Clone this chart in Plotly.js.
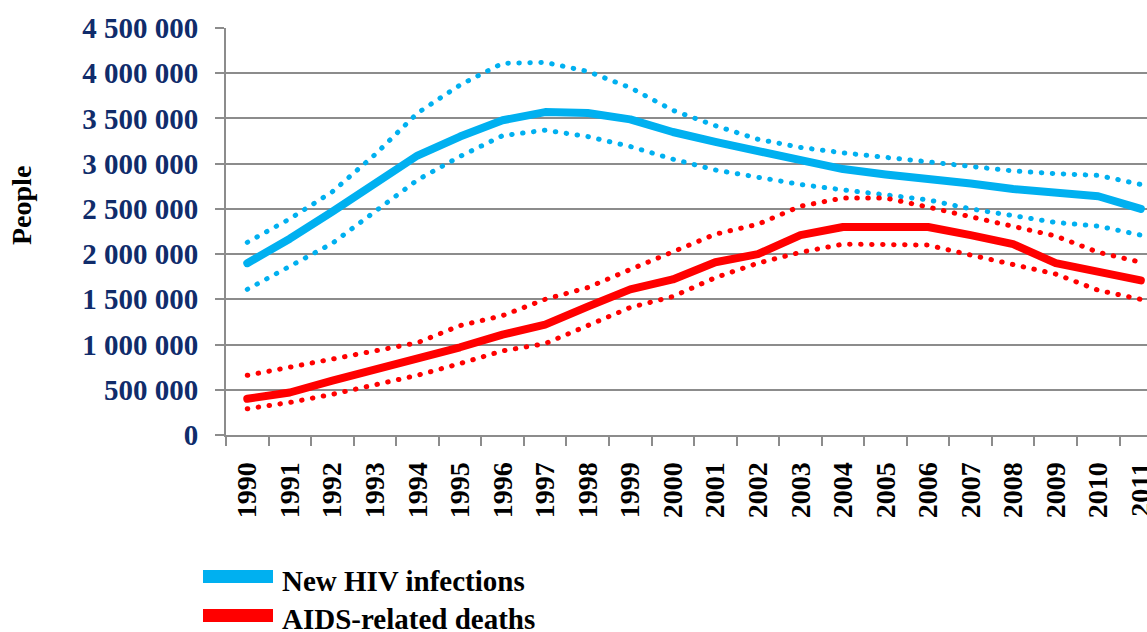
<!DOCTYPE html>
<html>
<head>
<meta charset="utf-8">
<script src="https://cdn.plot.ly/plotly-3.0.1.min.js"></script>
<style>
	html, body { margin: 0; padding: 0; background: #fff; }
	#chart { width: 1147px; height: 632px; }
	/* Excel draws round dots and round joins */
	.scatterlayer .js-line { stroke-linecap: round !important; stroke-linejoin: round !important; }
</style>
</head>
<body>
<div id="chart"></div>
<script>
'use strict';

// categories
const years = ['1990','1991','1992','1993','1994','1995','1996','1997','1998','1999','2000',
	'2001','2002','2003','2004','2005','2006','2007','2008','2009','2010','2011'];

// New HIV infections - estimate, upper and lower bound
const newInfections = [1900000, 2170000, 2470000, 2790000, 3090000, 3300000, 3480000, 3570000, 3560000, 3490000, 3350000,
	3240000, 3140000, 3030000, 2940000, 2880000, 2840000, 2780000, 2720000, 2680000, 2640000, 2500000];
const newInfectionsHigh = [2130000, 2390000, 2690000, 3100000, 3560000, 3870000, 4110000, 4120000, 4020000, 3840000, 3590000,
	3420000, 3270000, 3180000, 3120000, 3070000, 3020000, 2960000, 2920000, 2890000, 2870000, 2770000];
const newInfectionsLow = [1610000, 1870000, 2120000, 2470000, 2820000, 3080000, 3310000, 3370000, 3300000, 3190000, 3050000,
	2930000, 2850000, 2770000, 2710000, 2660000, 2600000, 2500000, 2430000, 2350000, 2310000, 2210000];

// AIDS-related deaths - estimate, upper and lower bound
const deaths = [400000, 470000, 600000, 720000, 840000, 970000, 1110000, 1220000, 1420000, 1610000, 1720000,
	1910000, 2000000, 2210000, 2300000, 2300000, 2300000, 2210000, 2110000, 1900000, 1810000, 1710000];
const deathsHigh = [660000, 750000, 840000, 930000, 1020000, 1210000, 1320000, 1500000, 1630000, 1830000, 2030000,
	2220000, 2330000, 2530000, 2620000, 2620000, 2520000, 2410000, 2310000, 2200000, 2020000, 1910000];
const deathsLow = [290000, 360000, 450000, 550000, 660000, 790000, 930000, 1010000, 1210000, 1410000, 1530000,
	1740000, 1900000, 2020000, 2110000, 2110000, 2100000, 1990000, 1890000, 1780000, 1600000, 1500000];

const seriesNames = ['New HIV infections', 'AIDS-related deaths'];

const BLUE = '#00b0f0';
const RED = '#ff0000';
const GREY = '#8c8c8c';
const NAVY = '#102c6b';
const SERIF = '"Liberation Serif", "Times New Roman", serif';

// plot area in page pixels (used for legend placement)
const plotBox = { left: 226, top: 28, width: 921, height: 407 };
const px = x => (x - plotBox.left) / plotBox.width;
const py = y => (plotBox.top + plotBox.height - y) / plotBox.height;

const solid = ( y, color, name ) => ({
	x: years, y, name, type: 'scatter', mode: 'lines',
	line: { color, width: 8 },
	showlegend: false,
});

const dotted = ( y, color ) => ({
	x: years, y, type: 'scatter', mode: 'lines',
	line: { color, width: 5, dash: '0.5px,10.5px' },
	showlegend: false,
});

const data = [
	dotted( newInfectionsHigh, BLUE ),
	dotted( newInfectionsLow, BLUE ),
	dotted( deathsHigh, RED ),
	dotted( deathsLow, RED ),
	solid( newInfections, BLUE, seriesNames[0] ),
	solid( deaths, RED, seriesNames[1] ),
];

/*
Legend drawn by hand: Excel uses a long flat swatch
*/
const legendRows = [
	{ color: BLUE, top: 570, text: seriesNames[0], textY: 581 },
	{ color: RED, top: 609, text: seriesNames[1], textY: 619 },
];

const shapes = legendRows.map( row => ({
	type: 'rect', xref: 'paper', yref: 'paper',
	x0: px(203), x1: px(273), y0: py(row.top + 13), y1: py(row.top),
	fillcolor: row.color, line: { width: 0 },
}));

const annotations = legendRows.map( row => ({
	xref: 'paper', yref: 'paper', x: px(280), y: py(row.textY),
	xanchor: 'left', yanchor: 'middle', showarrow: false,
	text: row.text,
	font: { family: SERIF, size: 29, color: '#000', weight: 'bold' },
}));

// y axis title sits above the middle, like the original
annotations.push({
	xref: 'paper', yref: 'paper', x: px(22), y: py(206),
	xanchor: 'center', yanchor: 'middle', showarrow: false,
	textangle: -90, text: 'People',
	font: { family: SERIF, size: 28, color: '#000', weight: 'bold' },
});

const layout = {
	width: 1147, height: 632,
	margin: { l: 226, r: 0, t: 28, b: 197, pad: 0 },
	paper_bgcolor: '#fff', plot_bgcolor: '#fff',
	separators: '. ',
	showlegend: false,
	xaxis: {
		type: 'category',
		range: [-0.5, 21.145],
		tickson: 'boundaries',
		ticks: 'outside', ticklen: 9, tickwidth: 2, tickcolor: GREY,
		showline: true, linecolor: GREY, linewidth: 2,
		showgrid: false, zeroline: false,
		tickangle: -90,
		ticklabelstandoff: 14,
		tickfont: { family: SERIF, size: 28, color: '#000', weight: 'bold' },
	},
	yaxis: {
		range: [0, 4500000],
		tick0: 0, dtick: 500000,
		tickformat: ',d',
		ticks: 'outside', ticklen: 9, tickwidth: 2, tickcolor: GREY,
		showline: true, linecolor: GREY, linewidth: 2,
		showgrid: true, gridcolor: GREY, gridwidth: 2,
		zeroline: false,
		ticklabelstandoff: 11,
		tickfont: { family: SERIF, size: 29, color: NAVY, weight: 'bold' },
	},
	shapes,
	annotations,
};

Plotly.newPlot('chart', data, layout, { displayModeBar: false, staticPlot: true });
</script>
</body>
</html>
